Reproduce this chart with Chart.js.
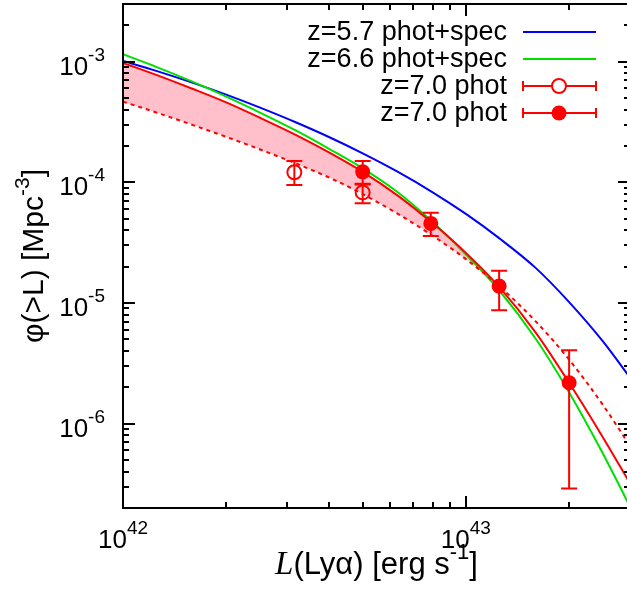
<!DOCTYPE html>
<html>
<head>
<meta charset="utf-8">
<script src="https://cdn.jsdelivr.net/npm/chart.js@4.4.0/dist/chart.umd.min.js"></script>
<style>
  html, body { margin: 0; padding: 0; background: #fff; overflow: hidden; }
  #wrap { width: 627px; height: 600px; }
</style>
</head>
<body>
<div id="wrap"><canvas id="lyaLF" width="627" height="600"></canvas></div>
<script>
// model curves, sampled on one luminosity grid (units of 1e42 erg/s)
const lumGrid = [1, 1.25, 1.6, 2, 2.5, 3.2, 4, 5, 6.3, 8, 10, 12.5, 16, 20, 25, 30];
const phiZ57 = [1.013e-3, 8.38e-4, 6.66e-4, 5.32e-4, 4.17e-4, 3.126e-4, 2.36e-4, 1.737e-4, 1.23e-4, 8.26e-5, 5.465e-5, 3.443e-5, 1.944e-5, 1.017e-5, 4.87e-6, 2.44e-6];
const phiZ66 = [1.151e-3, 9.04e-4, 6.78e-4, 5.13e-4, 3.80e-4, 2.675e-4, 1.886e-4, 1.304e-4, 8.34e-5, 4.68e-5, 2.52e-5, 1.274e-5, 5.03e-6, 1.815e-6, 5.77e-7, 2.09e-7];
const phiZ70Hi = [9.75e-4, 7.76e-4, 5.93e-4, 4.59e-4, 3.44e-4, 2.46e-4, 1.76e-4, 1.22e-4, 7.83e-5, 4.57e-5, 2.60e-5, 1.36e-5, 5.66e-6, 2.18e-6, 7.83e-7, 3.25e-7];
const phiZ70Lo = [4.656e-4, 3.785e-4, 2.978e-4, 2.377e-4, 1.879e-4, 1.427e-4, 1.091e-4, 7.98e-5, 5.52e-5, 3.606e-5, 2.307e-5, 1.38e-5, 7.01e-6, 3.39e-6, 1.451e-6, 6.64e-7];

// z=7.0 phot data points
const openLum = [3.16e42, 5.0e42];
const openPhi = [1.21e-4, 8.24e-5];
const openHi = [1.5e-4, 9.6e-5];
const openLo = [9.5e-5, 6.7e-5];
const filledLum = [5.0e42, 7.9e42, 1.25e43, 2.0e43];
const filledPhi = [1.22e-4, 4.56e-5, 1.38e-5, 2.18e-6];
const filledHi = [1.5e-4, 5.58e-5, 1.85e-5, 4.05e-6];
const filledLo = [9.7e-5, 3.58e-5, 8.7e-6, 2.9e-7];

const xTickExp = [42, 43];
const yTickExp = [-3, -4, -5, -6];
const legendLabels = ['z=5.7 phot+spec', 'z=6.6 phot+spec', 'z=7.0 phot', 'z=7.0 phot'];

const SANS = '"Liberation Sans", Arial, sans-serif';
const SERIF = '"Liberation Serif", "Times New Roman", serif';

const lum = lumGrid.map(v => v * 1e42);
function toXY(xs, ys) { return xs.map((x, i) => ({x: x, y: ys[i]})); }

// draw a run of text pieces, some raised as superscripts
function drawRun(ctx, parts, x, y, align) {
  let w = 0;
  parts.forEach(p => { ctx.font = p.font; p.w = ctx.measureText(p.t).width; w += p.w; });
  let cx = align === 'center' ? x - w / 2 : align === 'right' ? x - w : x;
  ctx.textAlign = 'left';
  ctx.textBaseline = 'alphabetic';
  parts.forEach(p => { ctx.font = p.font; ctx.fillText(p.t, cx, y - (p.rise || 0)); cx += p.w; });
}

function powerLabel(exp) {
  return [
    {t: '10', font: '26px ' + SANS},
    {t: String(exp), font: '19px ' + SANS, rise: 14}
  ];
}

const errorBars = {
  id: 'errorBars',
  afterDatasetsDraw(chart) {
    const ctx = chart.ctx, xs = chart.scales.x, ys = chart.scales.y;
    const a = chart.chartArea;
    ctx.save();
    ctx.beginPath();
    ctx.rect(a.left, a.top, a.right - a.left, a.bottom - a.top);
    ctx.clip();
    ctx.strokeStyle = '#ff0000';
    ctx.lineWidth = 2;
    [[openLum, openLo, openHi], [filledLum, filledLo, filledHi]].forEach(([lx, lo, hi]) => {
      lx.forEach((v, i) => {
        const px = xs.getPixelForValue(v);
        const p1 = ys.getPixelForValue(lo[i]);
        const p2 = ys.getPixelForValue(hi[i]);
        ctx.beginPath();
        ctx.moveTo(px, p1); ctx.lineTo(px, p2);
        ctx.moveTo(px - 8, p1); ctx.lineTo(px + 8, p1);
        ctx.moveTo(px - 8, p2); ctx.lineTo(px + 8, p2);
        ctx.stroke();
      });
    });
    ctx.restore();
  }
};

const frame = {
  id: 'frame',
  afterDraw(chart) {
    const ctx = chart.ctx, xs = chart.scales.x, ys = chart.scales.y;
    const a = chart.chartArea;
    const rightEdge = a.right + 3; // the right axis sits just past the picture edge
    ctx.save();
    ctx.strokeStyle = '#000';
    ctx.fillStyle = '#000';
    ctx.lineWidth = 2;
    ctx.beginPath();
    ctx.moveTo(rightEdge, a.top); ctx.lineTo(a.left, a.top);
    ctx.lineTo(a.left, a.bottom); ctx.lineTo(rightEdge, a.bottom);
    ctx.stroke();

    ctx.beginPath();
    for (let e = 41; e <= 43; e++) {
      for (let m = 1; m <= 9; m++) {
        const v = m * Math.pow(10, e);
        if (v < xs.min * 0.999 || v > xs.max * 1.001) continue;
        const len = m === 1 ? 12 : 6;
        const px = Math.round(xs.getPixelForValue(v));
        ctx.moveTo(px, a.bottom); ctx.lineTo(px, a.bottom - len);
        ctx.moveTo(px, a.top); ctx.lineTo(px, a.top + len);
      }
    }
    for (let e = -7; e <= -3; e++) {
      for (let m = 1; m <= 9; m++) {
        const v = m * Math.pow(10, e);
        if (v < ys.min * 0.999 || v > ys.max * 1.001) continue;
        const len = m === 1 ? 12 : 6;
        const py = Math.round(ys.getPixelForValue(v));
        ctx.moveTo(a.left, py); ctx.lineTo(a.left + len, py);
        ctx.moveTo(rightEdge, py); ctx.lineTo(rightEdge - len, py);
      }
    }
    ctx.stroke();

    // tick labels
    xTickExp.forEach(e => {
      drawRun(ctx, powerLabel(e), xs.getPixelForValue(Math.pow(10, e)), 548, 'center');
    });
    yTickExp.forEach(e => {
      drawRun(ctx, powerLabel(e), 105, ys.getPixelForValue(Math.pow(10, e)) + 13, 'right');
    });

    // axis titles
    drawRun(ctx, [
      {t: 'L', font: 'italic 33px ' + SERIF},
      {t: '(Ly\u03b1) [erg s', font: '31px ' + SANS},
      {t: '-1', font: '22px ' + SANS, rise: 15},
      {t: ']', font: '31px ' + SANS}
    ], (a.left + rightEdge) / 2, 574, 'center');

    ctx.save();
    ctx.translate(43, (a.top + a.bottom) / 2);
    ctx.rotate(-Math.PI / 2);
    drawRun(ctx, [
      {t: '\u03c6(>L) [Mpc', font: '30px ' + SANS},
      {t: '-3', font: '21px ' + SANS, rise: 14},
      {t: ']', font: '30px ' + SANS}
    ], 0, 0, 'center');
    ctx.restore();

    // legend
    const colors = ['#0000ff', '#00e000', '#ff0000', '#ff0000'];
    legendLabels.forEach((lab, i) => {
      const y = 32 + 27 * i;
      ctx.fillStyle = '#000';
      drawRun(ctx, [{t: lab, font: '27px ' + SANS}], 507, y + 8, 'right');
      ctx.strokeStyle = colors[i];
      ctx.fillStyle = colors[i];
      ctx.lineWidth = 2;
      ctx.beginPath();
      ctx.moveTo(523, y); ctx.lineTo(596, y);
      if (i >= 2) {
        ctx.moveTo(523, y - 5); ctx.lineTo(523, y + 5);
        ctx.moveTo(596, y - 5); ctx.lineTo(596, y + 5);
      }
      ctx.stroke();
      if (i === 2) {
        ctx.beginPath(); ctx.arc(559, y, 7, 0, Math.PI * 2);
        ctx.fillStyle = '#fff'; ctx.fill(); ctx.stroke();
      } else if (i === 3) {
        ctx.beginPath(); ctx.arc(559, y, 7.5, 0, Math.PI * 2); ctx.fill();
      }
    });
    ctx.restore();
  }
};

const ctx = document.getElementById('lyaLF');

new Chart(ctx, {
  type: 'scatter',
  data: {
    datasets: [
      {
        label: legendLabels[2],
        data: toXY(openLum, openPhi),
        pointStyle: 'circle',
        pointRadius: 7,
        pointBorderWidth: 2,
        borderColor: '#ff0000',
        backgroundColor: 'rgba(0,0,0,0)',
        order: 0
      },
      {
        label: legendLabels[3],
        data: toXY(filledLum, filledPhi),
        pointStyle: 'circle',
        pointRadius: 7.5,
        pointBorderWidth: 0,
        borderColor: '#ff0000',
        backgroundColor: '#ff0000',
        order: 1
      },
      {
        label: 'z=7.0 fit (upper)',
        data: toXY(lum, phiZ70Hi),
        showLine: true,
        pointRadius: 0,
        borderColor: '#ff0000',
        borderWidth: 2,
        cubicInterpolationMode: 'monotone',
        fill: {target: '+1', above: 'rgb(255,192,203)', below: 'rgba(0,0,0,0)'},
        order: 2
      },
      {
        label: 'z=7.0 fit (lower)',
        data: toXY(lum, phiZ70Lo),
        showLine: true,
        pointRadius: 0,
        borderColor: '#ff0000',
        borderWidth: 2,
        borderDash: [4, 4],
        cubicInterpolationMode: 'monotone',
        order: 3
      },
      {
        label: legendLabels[1],
        data: toXY(lum, phiZ66),
        showLine: true,
        pointRadius: 0,
        borderColor: '#00e000',
        borderWidth: 2,
        cubicInterpolationMode: 'monotone',
        order: 4
      },
      {
        label: legendLabels[0],
        data: toXY(lum, phiZ57),
        showLine: true,
        pointRadius: 0,
        borderColor: '#0000ff',
        borderWidth: 2,
        cubicInterpolationMode: 'monotone',
        order: 5
      }
    ]
  },
  options: {
    responsive: false,
    animation: false,
    devicePixelRatio: 1,
    layout: { autoPadding: false, padding: { top: 4, right: 0, left: 0, bottom: 0 } },
    plugins: {
      legend: { display: false },
      tooltip: { enabled: false },
      filler: { drawTime: 'beforeDatasetsDraw' }
    },
    scales: {
      x: {
        type: 'logarithmic',
        min: 1e42,
        max: 2.95e43,
        ticks: { display: false },
        grid: { display: false },
        border: { display: false },
        afterFit: s => { s.height = 92; }
      },
      y: {
        type: 'logarithmic',
        min: 2e-7,
        max: 3e-3,
        ticks: { display: false },
        grid: { display: false },
        border: { display: false },
        afterFit: s => { s.width = 123; }
      }
    }
  },
  plugins: [errorBars, frame]
});
</script>
</body>
</html>
